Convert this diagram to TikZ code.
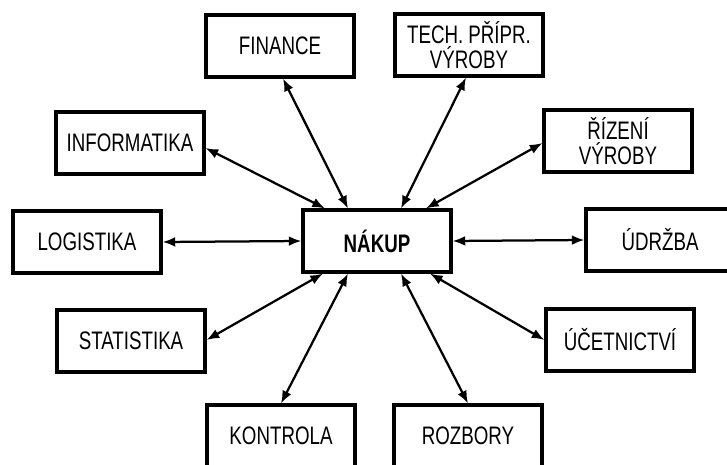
\documentclass[tikz,border=0pt]{standalone}
\usepackage{fontspec}
\setmainfont{Liberation Sans}[FakeStretch=0.74]
\usepackage{tikz}
\usetikzlibrary{arrows.meta,calc}

\begin{document}
\begin{tikzpicture}[x=0.025cm,y=-0.025cm,>={Latex[length=9pt,width=7pt]}]
\tikzset{
 box/.style={draw,line width=2.2pt,minimum width=3.7cm,minimum height=1.55cm,align=center,font=\fontsize{18}{17.5}\selectfont},
 mainbox/.style={box,font=\fontsize{18}{17.5}\selectfont\bfseries},
 arrow/.style={<->,line width=1.6pt}
}
\useasboundingbox (0,0) rectangle (727,465);
\node[box] (finance) at (280,46) {FINANCE};
\node[box] (tech) at (469,45) {TECH. PŘÍPR.\\VÝROBY};
\node[box] (informatika) at (130,143) {INFORMATIKA};
\node[box] (rizeni) at (618,141) {ŘÍZENÍ\\VÝROBY};
\node[box] (logistika) at (87,242) {LOGISTIKA};
\node[mainbox] (nakup) at (377,241) {NÁKUP};
\node[box] (udrzba) at (660,240) {ÚDRŽBA};
\node[box] (statistika) at (131,341) {STATISTIKA};
\node[box] (ucetnictvi) at (620,340) {ÚČETNICTVÍ};
\node[box] (kontrola) at (281,436) {KONTROLA};
\node[box] (rozbory) at (468,436) {ROZBORY};
\draw[arrow] ($(finance.south)+(3,0)$) -- ($(nakup.north)+(-29,0)$);
\draw[arrow] ($(informatika.east)+(0,5)$) -- ($(nakup.north)+(-52,0)$);
\draw[arrow] ($(tech.south)+(-3,0)$) -- ($(nakup.north)+(24,0)$);
\draw[arrow] ($(rizeni.west)+(0,2)$) -- ($(nakup.north)+(49,0)$);
\draw[arrow] (logistika.east) -- (nakup.west);
\draw[arrow] (nakup.east) -- (udrzba.west);
\draw[arrow] ($(statistika.east)+(0,-1)$) -- ($(nakup.south)+(-54,0)$);
\draw[arrow] (kontrola.north) -- ($(nakup.south)+(-29,0)$);
\draw[arrow] (rozbory.north) -- ($(nakup.south)+(24,0)$);
\draw[arrow] (ucetnictvi.west) -- ($(nakup.south)+(53,0)$);
\end{tikzpicture}
\end{document}
